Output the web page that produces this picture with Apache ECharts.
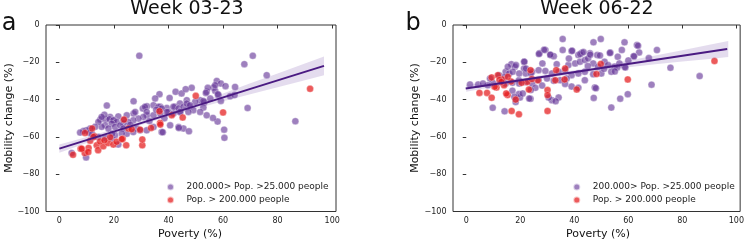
<!DOCTYPE html>
<html>
<head>
<meta charset="utf-8">
<script src="https://cdn.jsdelivr.net/npm/echarts@6/dist/echarts.min.js"></script>
<style>
html,body{margin:0;padding:0;background:#fff;}
#chart{width:747px;height:242px;}
</style>
</head>
<body>
<div id="chart"></div>
<script>
// ---------------- DATA ----------------
const panelTitles = ['Week 03-23', 'Week 06-22'];
const panelLetters = ['a', 'b'];
const seriesNames = ['200.000> Pop. >25.000 people', 'Pop. > 200.000 people'];
const xTicks = [0, 20, 40, 60, 80, 100];
const yTicks = [-100, -80, -60, -40, -20, 0];

// Panel a (Week 03-23): [poverty %, mobility change %]
const aMid = [
[29.3,-16.5],[67.8,-21],[70.9,-16.5],[76.0,-26.9],[57.7,-30],[59.2,-31.4],[60.9,-32.8],[64.4,-33.2],[56.5,-33.5],[54.0,-35.8],
[57.1,-35.3],[48.5,-33.7],[42.6,-35.8],[44.8,-36.7],[36.7,-37.1],[40.4,-39.1],[27.2,-40.9],[17.4,-43.2],[58.3,-37.6],[62.6,-38.2],
[55.3,-39.4],[51.6,-40.3],[53.1,-41.4],[46.7,-40.3],[49.8,-41.2],[44.2,-42.1],[47.6,-43.6],[42.4,-43.9],[39.4,-44.5],[37.0,-43.9],
[34.5,-43.0],[32.1,-43.6],[30.6,-44.8],[40.0,-46.6],[44.2,-46.6],[49.1,-45.7],[52.8,-44.3],[69.0,-44.5],[27.2,-47.5],[32.1,-48.4],
[24.7,-48.4],[21.6,-49.0],[18.6,-49.3],[15.0,-50.7],[17.0,-50.5],[20.0,-51.0],[86.5,-51.6],[35.1,-39.4],[46.3,-34.4],[27.8,-46.6],
[31.4,-43.9],[36.3,-43.9],[37.5,-44.8],[41.8,-43.9],[43.7,-44.8],[45.5,-43.9],[46.7,-42.1],[47.3,-46.6],[32.0,-46.6],[30.8,-49.3],
[29.0,-50.2],[27.1,-51.1],[25.3,-52.0],[23.5,-52.9],[34.5,-48.4],[37.0,-47.5],[39.4,-46.6],[41.8,-47.5],[44.3,-46.6],[28.4,-55.5],
[32.0,-56.5],[34.5,-54.7],[37.5,-57.4],[40.6,-53.8],[43.7,-54.7],[45.5,-55.5],[24.7,-58.3],[27.1,-57.4],[29.6,-56.5],[16.5,-48.1],
[18.4,-50.5],[19.8,-51.1],[21.0,-52.0],[19.2,-52.9],[16.8,-53.8],[15.5,-54.6],[18.0,-55.5],[20.4,-54.6],[22.3,-53.8],[23.5,-51.1],
[23.5,-55.5],[14.3,-52.0],[13.1,-54.6],[11.3,-55.5],[10.0,-56.4],[8.8,-56.9],[7.6,-57.7],[4.5,-68.6],[9.8,-71.0],[14.3,-60.0],
[16.8,-60.6],[19.2,-60.9],[20.4,-59.1],[22.9,-58.2],[15.5,-49.3],[19.4,-58.3],[21.6,-64.1],[54.4,-33.7],[57.1,-32.3],[53.7,-36.4],
[58.1,-37.1],[64.2,-37.6],[59.2,-40.7],[52.8,-40.7],[60.4,-56.1],[58.0,-51.8],[56.3,-49.8],[54.0,-48.4],[51.6,-46.6],[47.9,-43.0],
[47.5,-57.0],[43.8,-55.2],[37.9,-57.5],[60.5,-60.5],[11.0,-57.9],[26.0,-53.5],[33.0,-51.5],[38.5,-50.0],[35.5,-45.5],[12.0,-58.5]
];
const aBig = [
[50.0,-38.0],[36.7,-46.2],[60.0,-46.9],[45.2,-49.6],[23.7,-50.7],[91.9,-34.2],[5.0,-69.6],[7.8,-66.4],[9.3,-68.6],[10.7,-65.9],
[13.7,-64.5],[14.2,-67.1],[16.1,-65.0],[17.9,-63.3],[19.8,-64.1],[24.5,-64.5],[30.4,-64.5],[30.4,-61.4],[23.2,-61.0],[18.6,-60.2],
[12.9,-59.7],[9.4,-57.9],[11.3,-62.0],[14.9,-62.4],[25.3,-55.5],[29.6,-56.1],[33.6,-55.2],[36.9,-52.5],[21.0,-62.6],[16.5,-61.8],
[41.2,-48.4],[37.0,-53.4],[26.5,-55.9],[22.9,-61.2],[12.0,-55.5],[12.5,-60.0],[10.6,-68.1],[8.2,-66.3]
];
// regression line and 95% band
const aRegX = [0, 97];
const aRegY = [-66.3, -21.9];
const aBandX = [0, 10, 20, 30, 40, 50, 60, 70, 80, 90, 97];
const aBandUp = [-64.1, -60.1, -55.9, -51.6, -46.9, -41.9, -36.7, -31.3, -26.0, -20.6, -16.9];
const aBandLo = [-68.5, -63.3, -58.3, -53.6, -49.1, -44.9, -40.9, -37.1, -33.4, -29.6, -26.9];

// Panel b (Week 06-22)
const bMid = [
[35.7,-7.5],[49.8,-7.5],[47.1,-9.3],[58.6,-9.3],[35.7,-13.4],[39.0,-14.0],[27.1,-15.2],[29.3,-13.4],[31.2,-16.1],[32.4,-16.7],
[41.5,-16.1],[42.8,-14.9],[45.8,-15.2],[48.5,-16.1],[53.3,-14.7],[57.6,-13.4],[63.2,-10.7],[64.0,-14.7],[70.6,-13.4],[62.0,-16.7],
[56.1,-17.0],[21.4,-19.7],[16.7,-21.0],[18.0,-22.4],[14.6,-25.1],[15.9,-26.0],[12.2,-26.9],[21.4,-23.3],[22.0,-26.0],[24.4,-25.1],
[26.8,-24.2],[29.3,-24.6],[31.7,-26.0],[34.2,-25.1],[36.6,-24.2],[37.8,-21.5],[40.3,-20.6],[42.1,-19.7],[43.9,-18.8],[45.1,-17.9],
[47.0,-20.6],[48.8,-22.4],[51.2,-19.7],[52.5,-21.5],[54.9,-22.4],[56.7,-20.6],[58.6,-22.4],[53.7,-25.1],[50.0,-26.0],[47.0,-26.4],
[43.9,-25.1],[41.5,-26.0],[39.0,-26.9],[37.2,-28.7],[34.8,-29.6],[32.4,-29.9],[29.9,-28.7],[26.8,-29.6],[24.4,-31.4],[22.0,-30.5],
[19.5,-29.6],[17.1,-31.0],[14.6,-31.4],[12.8,-30.0],[9.8,-31.0],[8.0,-32.3],[4.4,-31.9],[1.4,-31.9],[75.6,-22.9],[86.4,-27.4],
[68.6,-32.0],[59.8,-37.1],[57.0,-39.5],[53.7,-44.3],[47.2,-39.1],[47.6,-33.5],[34.2,-38.9],[31.7,-40.3],[30.5,-38.9],[23.8,-39.6],
[19.9,-38.9],[18.3,-41.3],[14.2,-46.3],[9.8,-44.4],[17.1,-35.2],[19.5,-37.0],[25.6,-33.7],[28.1,-32.5],[36.6,-31.6],[39.0,-33.0],
[41.5,-33.7],[43.9,-29.6],[8.8,-28.7],[28.8,-13.3],[31.1,-15.9],[39.2,-13.8],[42.2,-15.6],[43.4,-14.5],[45.9,-15.9],[49.5,-16.3],
[53.2,-15.0],[63.6,-11.1],[62.1,-16.8],[67.6,-17.7],[55.9,-22.8],[58.9,-22.8],[55.0,-24.9],[48.0,-33.9],[33.1,-40.9],[15.4,-22.4],
[18.4,-21.5],[21.5,-19.7],[17.2,-25.1],[19.6,-26.0],[22.1,-23.3],[23.9,-26.0],[26.9,-15.6],[28.2,-20.6],[14.2,-27.8],[19.6,-31.4],
[23.9,-34.9],[20.9,-36.7],[23.3,-39.4],[17.8,-38.5],[6.2,-31.4],[60.0,-19.0],[51.0,-23.5],[45.0,-22.0],[38.0,-18.0],[33.5,-21.0]
];
const bBig = [
[9.4,-28.1],[4.9,-36.4],[7.7,-36.4],[9.4,-39.0],[11.2,-33.5],[13.4,-29.2],[14.0,-32.3],[15.3,-37.6],[16.6,-30.3],[18.3,-40.0],
[16.8,-46.1],[19.5,-47.9],[22.6,-30.5],[23.2,-34.6],[23.8,-24.2],[26.5,-29.6],[30.1,-34.9],[30.1,-37.6],[30.1,-46.1],[33.3,-24.2],
[33.0,-29.6],[36.6,-23.3],[36.4,-29.2],[40.9,-34.6],[48.2,-26.3],[49.8,-20.9],[59.8,-29.2],[91.9,-19.3],[11.7,-26.9],[12.3,-29.5],
[14.8,-36.7],[15.4,-27.8],[20.5,-31.0],[10.5,-33.1],[24.3,-29.0],[13.0,-30.5]
];
const bRegX = [-0.2, 96.6];
const bRegY = [-34.0, -12.9];
const bBandX = [0, 10, 20, 30, 40, 50, 60, 70, 80, 90, 97];
const bBandUp = [-32.2, -30.5, -28.6, -26.6, -24.3, -21.8, -19.1, -16.3, -13.6, -10.6, -8.6];
const bBandLo = [-35.8, -33.1, -30.6, -28.4, -26.3, -24.4, -22.7, -21.1, -19.6, -18.2, -17.2];

// ---------------- STYLE ----------------
const FONT = 'DejaVu Sans';
const PURPLE = 'rgba(100,52,150,0.78)';
const RED = 'rgba(228,26,28,0.9)';
const LINE = '#4a1a82';
const BAND = 'rgba(120,80,170,0.2)';
const AXIS = '#333';

const grids = [
  {left: 46, top: 25, width: 290, height: 186.5},
  {left: 453, top: 25, width: 290, height: 186.5}
];

function minusFmt(v) { return v < 0 ? '\u2212' + Math.abs(v) : String(v); }

const xAxes = grids.map((g, i) => ({
  type: 'value', gridIndex: i, min: -4.9, max: 101.4,
  splitLine: {show: false},
  axisLine: {show: false},
  axisTick: {show: true, length: 3.5, lineStyle: {color: AXIS, width: 1}, customValues: xTicks},
  axisLabel: {show: true, margin: 5.5, fontSize: 8, fontFamily: FONT, color: '#222', customValues: xTicks, formatter: minusFmt}
}));
const yAxes = grids.map((g, i) => ({
  type: 'value', gridIndex: i, min: -100, max: 0, interval: 20,
  splitLine: {show: false},
  axisLine: {show: false},
  axisTick: {show: true, length: 3.5, lineStyle: {color: AXIS, width: 1}},
  axisLabel: {show: true, margin: 6.5, fontSize: 8, fontFamily: FONT, color: '#222', formatter: minusFmt}
}));

function bandSeries(idx, bx, bu, bl) {
  return {
    type: 'custom', xAxisIndex: idx, yAxisIndex: idx, silent: true, z: 3,
    data: [0],
    renderItem: function (params, api) {
      const pts = [];
      for (let k = 0; k < bx.length; k++) pts.push(api.coord([bx[k], bu[k]]));
      for (let k = bx.length - 1; k >= 0; k--) pts.push(api.coord([bx[k], bl[k]]));
      return {type: 'polygon', shape: {points: pts}, style: {fill: BAND}};
    }
  };
}
function regSeries(idx, rx, ry) {
  return {
    type: 'line', xAxisIndex: idx, yAxisIndex: idx, z: 4, silent: true,
    showSymbol: false, symbol: 'none',
    data: rx.map((x, k) => [x, ry[k]]),
    lineStyle: {color: LINE, width: 2}
  };
}
function scatter(idx, name, data, color, z) {
  return {
    type: 'scatter', name: name, xAxisIndex: idx, yAxisIndex: idx, z: z,
    data: data, symbolSize: 7,
    itemStyle: {color: color, borderColor: 'rgba(255,255,255,0.8)', borderWidth: 0.5}
  };
}

const series = [
  scatter(0, seriesNames[0], aMid, PURPLE, 2),
  scatter(0, seriesNames[1], aBig, RED, 2),
  bandSeries(0, aBandX, aBandUp, aBandLo),
  regSeries(0, aRegX, aRegY),
  scatter(1, seriesNames[0], bMid, PURPLE, 2),
  scatter(1, seriesNames[1], bBig, RED, 2),
  bandSeries(1, bBandX, bBandUp, bBandLo),
  regSeries(1, bRegX, bRegY)
];

function legendAt(left) {
  return {
    left: left, top: 177.5, orient: 'vertical', itemWidth: 22, itemHeight: 7, itemGap: 4,
    icon: 'circle', selectedMode: false,
    data: seriesNames,
    textStyle: {fontSize: 9, fontFamily: FONT, color: '#222'}
  };
}

const txt = (t, x, y, size, extra) => Object.assign({
  type: 'text', x: x, y: y, silent: true,
  style: {text: t, fontSize: size, fontFamily: FONT, fill: '#111', textAlign: 'center', textVerticalAlign: 'middle'}
}, extra || {});

const graphic = [
  txt(panelTitles[0], 187, 9, 19),
  txt(panelTitles[1], 597, 9, 19),
  txt(panelLetters[0], 9, 23.5, 24),
  txt(panelLetters[1], 413, 23.5, 24),
  txt('Poverty (%)', 190, 234, 11),
  txt('Poverty (%)', 598, 234, 11),
  txt('Mobility change (%)', 9.5, 118, 11, {rotation: Math.PI / 2}),
  txt('Mobility change (%)', 415.5, 118, 11, {rotation: Math.PI / 2})
];

const chart = echarts.init(document.getElementById('chart'), null, {renderer: 'canvas'});
chart.setOption({
  animation: false,
  backgroundColor: '#fff',
  grid: grids.map(g => Object.assign({show: true, borderColor: AXIS, borderWidth: 1, backgroundColor: 'transparent'}, g)),
  xAxis: xAxes,
  yAxis: yAxes,
  legend: [legendAt(161), legendAt(567.3)],
  graphic: graphic,
  series: series
});
</script>
</body>
</html>
